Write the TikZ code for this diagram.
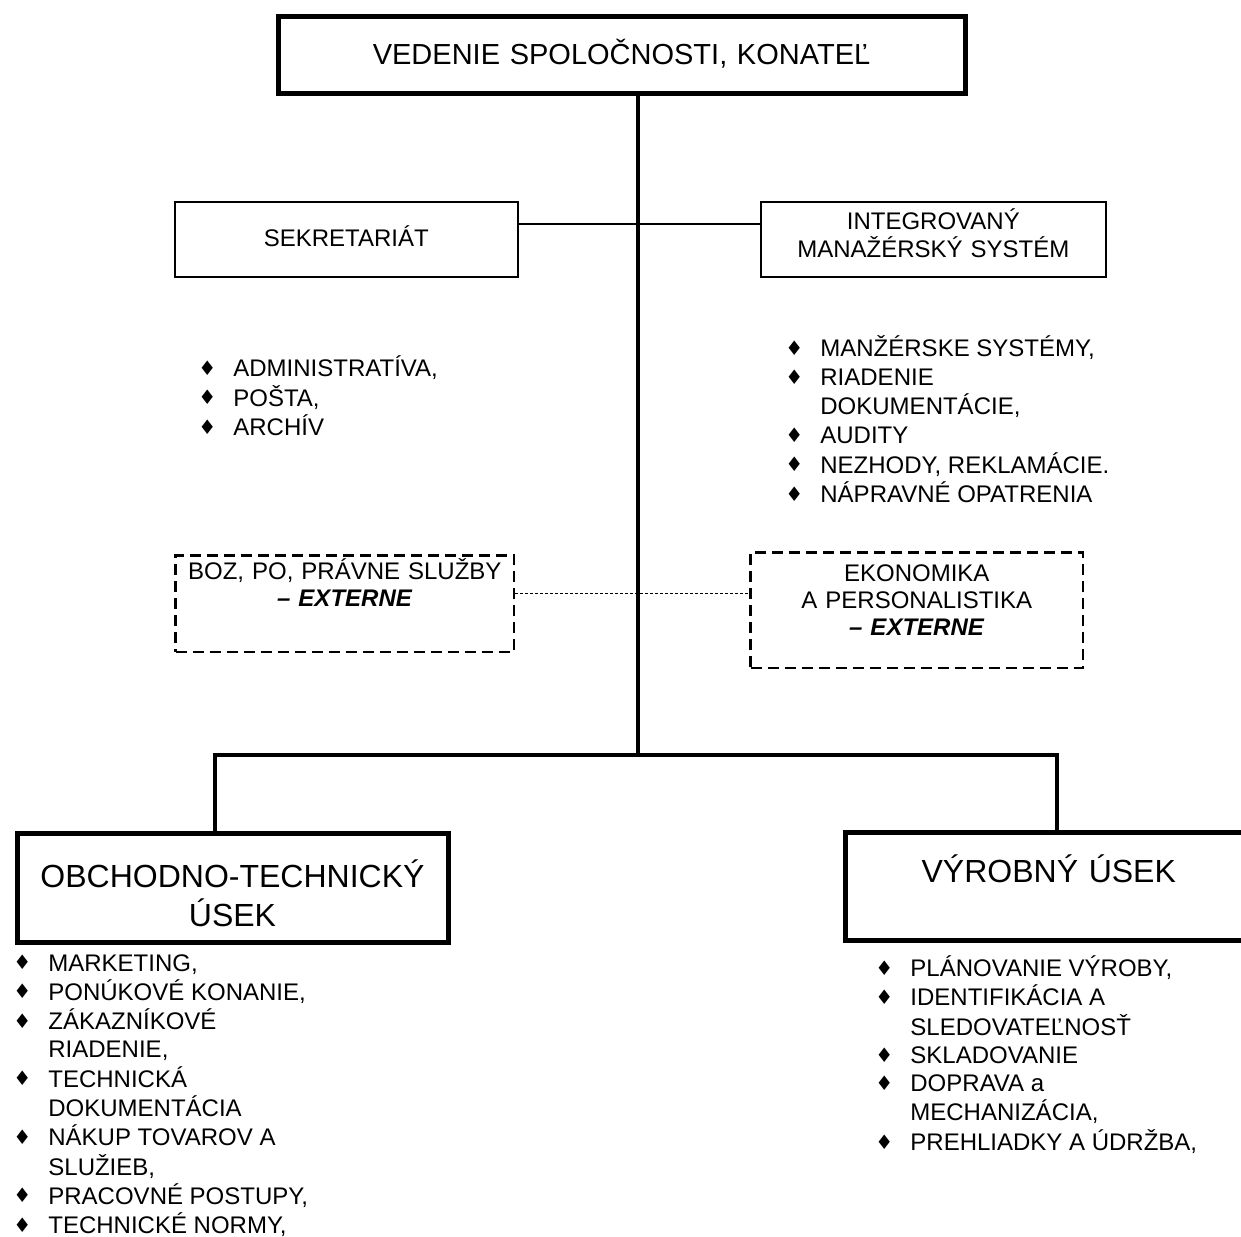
\documentclass[tikz,border=0pt]{standalone}
\usepackage{fontspec}
\setmainfont{Liberation Sans}
\newfontfamily\symfont{DejaVu Sans}
\usepackage{tikz}
\usetikzlibrary{positioning}
\newcommand{\dia}{\raisebox{\dimexpr4.3pt-.5\height\relax}{\symfont\fontsize{10}{10}\selectfont ♦}}
\newcommand{\itm}{\makebox[17.5pt][l]{\dia}&}
\tikzset{
	mainbox/.style={draw=black,line width=2.5pt,inner sep=0pt,anchor=north west,align=center,font=\fontsize{16}{19.5}\selectfont},
	smallbox/.style={draw=black,line width=0.8pt,inner sep=0pt,anchor=north west,align=center,font=\fontsize{12}{14}\selectfont},
	extbox/.style={draw=black,line width=1.3pt,dash pattern=on 5.5pt off 3pt,inner sep=0pt,anchor=north west,align=center,font=\fontsize{12}{13.5}\selectfont},
	tlist/.style={inner sep=0pt,anchor=base west,font=\fontsize{12}{14.4}\selectfont},
	blist/.style={inner sep=0pt,anchor=base west,font=\fontsize{12}{14.1}\selectfont},
	trunk/.style={line width=2.2pt},
	link/.style={line width=0.8pt},
	dotlink/.style={line width=0.6pt,dash pattern=on 1.5pt off 1pt}}

\begin{document}
\begin{tikzpicture}[x=0.5pt,y=-0.5pt]
		\useasboundingbox (0,0) rectangle (1241,1236);
		\node (top) at (275.5,14.5) [mainbox,font=\fontsize{14.5}{17}\selectfont,text width=343.5pt,text height=23.75pt,text depth=14.5pt] {VEDENIE SPOLOČNOSTI, KONATEĽ};
		\node (sek) at (174,201) [smallbox,text width=171.5pt,text height=22.3pt,text depth=15.2pt] {SEKRETARIÁT};
		\node (int) at (760,201) [smallbox,text width=172.5pt,text height=13.8pt,text depth=23.7pt] {INTEGROVANÝ\\MANAŽÉRSKÝ SYSTÉM};
		\node (boz) at (174.3,554.3) [extbox,text width=169.2pt,text height=12.15pt,text depth=36.05pt] {BOZ, PO, PRÁVNE SLUŽBY\\\textbf{\textit{– EXTERNE}}};
		\node (eko) at (749.3,551.3) [extbox,text width=166.2pt,text height=14.65pt,text depth=43.05pt] {EKONOMIKA\\A PERSONALISTIKA\\\textbf{\textit{– EXTERNE}}};
		\node (obc) at (14.5,830.5) [mainbox,text width=215.5pt,text height=27pt,text depth=27.5pt] {OBCHODNO-TECHNICKÝ\\ÚSEK};
		\node (vyr) at (842.5,829.5) [mainbox,text width=203.75pt,text height=25pt,text depth=29pt] {VÝROBNÝ ÚSEK};
		\node (seklist) at (198,376.6) [tlist] {\begin{tabular}[t]{@{}l@{}l@{}}
			\itm ADMINISTRATÍVA,\\
			\itm POŠTA,\\
			\itm ARCHÍV
		\end{tabular}};
		\node (intlist) at (785,356.6) [tlist] {\begin{tabular}[t]{@{}l@{}l@{}}
			\itm MANŽÉRSKE SYSTÉMY,\\
			\itm RIADENIE\\
			& DOKUMENTÁCIE,\\
			\itm AUDITY\\
			\itm NEZHODY, REKLAMÁCIE.\\
			\itm NÁPRAVNÉ OPATRENIA
		\end{tabular}};
		\node (obclist) at (13,971) [blist] {\begin{tabular}[t]{@{}l@{}l@{}}
			\itm MARKETING,\\
			\itm PONÚKOVÉ KONANIE,\\
			\itm ZÁKAZNÍKOVÉ\\
			& RIADENIE,\\
			\itm TECHNICKÁ\\
			& DOKUMENTÁCIA\\
			\itm NÁKUP TOVAROV A\\
			& SLUŽIEB,\\
			\itm PRACOVNÉ POSTUPY,\\
			\itm TECHNICKÉ NORMY,
		\end{tabular}};
		\node (vyrlist) at (875,976.6) [blist] {\begin{tabular}[t]{@{}l@{}l@{}}
			\itm PLÁNOVANIE VÝROBY,\\
			\itm IDENTIFIKÁCIA A\\
			& SLEDOVATEĽNOSŤ\\
			\itm SKLADOVANIE\\
			\itm DOPRAVA a\\
			& MECHANIZÁCIA,\\
			\itm PREHLIADKY A ÚDRŽBA,
		\end{tabular}};
		\coordinate (hub) at (638,755);
		\coordinate (lt) at (215,755);
		\coordinate (rt) at (1057,755);
		\draw [trunk] (top.south -| hub) -- (hub);
		\draw [trunk] (obc.north -| lt) -- (lt) -- (rt) -- (vyr.north -| rt);
		\draw [link] ([yshift=7.75pt]sek.east) -- ([yshift=7.75pt]int.west);
		\draw [dotlink] ([yshift=5.25pt]boz.east) -- ([yshift=8.5pt]eko.west);
\end{tikzpicture}
\end{document}
